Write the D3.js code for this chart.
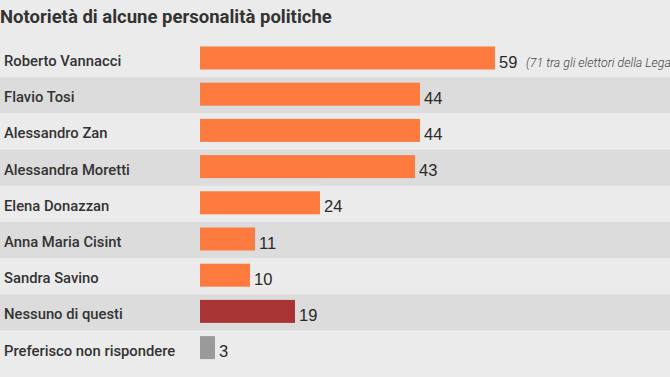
<!DOCTYPE html>
<html>
<head>
<meta charset="utf-8">
<script src="https://cdn.jsdelivr.net/npm/d3@7"></script>
<style>
  body { margin: 0; background: #ebebeb; }
  svg { display: block; }
</style>
</head>
<body>
<svg id="chart" width="670" height="377"></svg>
<script>
var names = ["Roberto Vannacci", "Flavio Tosi", "Alessandro Zan", "Alessandra Moretti",
    "Elena Donazzan", "Anna Maria Cisint", "Sandra Savino", "Nessuno di questi",
    "Preferisco non rispondere"];
var values = [59, 44, 44, 43, 24, 11, 10, 19, 3];
var kinds = ["p", "p", "p", "p", "p", "p", "p", "none", "nr"];
var note = "(71 tra gli elettori della Lega";
var title = "Notorietà di alcune personalità politiche";

var colors = {p: "#fd7b3e", none: "#a83434", nr: "#9a9a9a"};

var svg = d3.select("#chart");

svg.append("rect")
    .attr("width", 670).attr("height", 377)
    .attr("fill", "#ebebeb");

svg.append("text")
    .attr("x", 0).attr("y", 23)
    .attr("font-family", "Roboto, sans-serif")
    .attr("font-weight", "bold")
    .attr("font-size", 18.5)
    .attr("fill", "#333")
    .text(title);

var y = d3.scaleBand()
    .domain(names)
    .range([41, 41 + 36.2 * names.length])
    .padding(0);

var x = d3.scaleLinear()
    .domain([0, 59])
    .range([200, 495]);

var rows = svg.selectAll("g.row")
    .data(names)
    .enter().append("g")
    .attr("class", "row")
    .attr("transform", function(d){
        return "translate(0," + y(d) + ")";
    });

// striped background
rows.append("rect")
    .attr("x", 0)
    .attr("width", 670)
    .attr("height", y.bandwidth())
    .attr("fill", function(d, i){
        return i % 2 == 1 ? "#dcdcdc" : "#ebebeb";
    });

rows.append("text")
    .attr("x", 4)
    .attr("y", 25)
    .attr("font-family", "Roboto, sans-serif")
    .attr("font-weight", 500)
    .attr("font-size", 14.8)
    .attr("fill", "#333")
    .text(function(d){ return d; });

rows.append("rect")
    .attr("x", x(0))
    .attr("y", 5.5)
    .attr("height", 23)
    .attr("width", function(d, i){ return x(values[i]) - x(0); })
    .attr("fill", function(d, i){ return colors[kinds[i]]; });

rows.append("text")
    .attr("x", function(d, i){ return x(values[i]) + 4; })
    .attr("y", 26.5)
    .attr("font-family", "'Liberation Sans', Arial, sans-serif")
    .attr("font-size", 16.5)
    .attr("fill", "#2a2a2a")
    .text(function(d, i){ return values[i]; });

svg.append("text")
    .attr("x", x(59) + 31)
    .attr("y", y(names[0]) + 25.5)
    .attr("font-family", "Roboto, sans-serif")
    .attr("font-style", "italic")
    .attr("font-weight", 300)
    .attr("font-size", 12.4)
    .attr("fill", "#444")
    .text(note);
</script>
</body>
</html>
